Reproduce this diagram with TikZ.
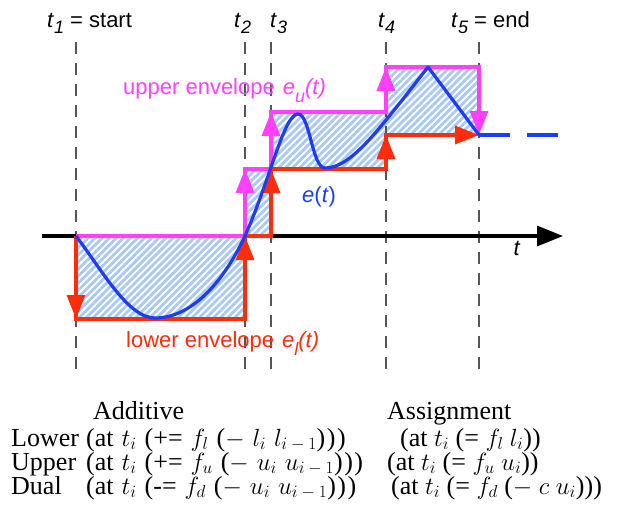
\documentclass[tikz,border=0pt]{standalone}
\usepackage{fontspec}
\setmainfont{Liberation Serif}
\setsansfont{Liberation Sans}
\usetikzlibrary{arrows.meta,patterns.meta}

\definecolor{envmag}{HTML}{FF40FF}
\definecolor{envred}{HTML}{FF2D0A}
\definecolor{curveblue}{HTML}{1E3CF0}
\definecolor{hatchblue}{HTML}{A9C9F2}
\definecolor{gridgray}{HTML}{555555}

\newcommand{\mysub}[2][7pt]{\raisebox{-#1}{\fontsize{18}{20}\selectfont\itshape #2}}
\newcommand{\tgap}{\hspace{8pt}}
\newcommand{\imo}{i\mskip\medmuskip-\mskip\medmuskip1}
\newcommand{\cpar}{)\kern1.5pt)\kern1.5pt)}

\begin{document}
\begin{tikzpicture}[x=1pt,y=-1pt,
  thickline/.style={line width=3.2pt},
  tipped/.style={thickline,-{Triangle[length=24pt,width=18pt]}},
  hatch/.style={pattern={Lines[angle=45,distance=5pt,line width=2.8pt]},pattern color=hatchblue},
  gridline/.style={gridgray,line width=1.2pt,dash pattern=on 12pt off 9pt},
  lab/.style={font=\sffamily\fontsize{22}{26}\selectfont,inner sep=0pt,anchor=base west},
  tab/.style={font=\fontsize{26}{28}\selectfont,inner sep=0pt,anchor=base west}
]
\useasboundingbox (0,0) rectangle (623,517);

% hatched regions between envelopes
\fill[hatch] (76,236) rectangle (245,319);
\fill[hatch] (245,169) rectangle (271,236);
\fill[hatch] (271,112) rectangle (386,169);
\fill[hatch] (386,67) rectangle (479,135);

% time markers
\foreach \x/\n in {76/1,245/2,271/3,386/4,479/5}{
  \coordinate (top\n) at (\x,42);
  \coordinate (bot\n) at (\x,370);
  \draw[gridline] (top\n) -- (bot\n);
}

% labels on top
\node[lab] (lt1) at (47,27.5) {\textit{t}\mysub[6pt]{1} = start};
\node[lab] (lt2) at (234,27.5) {\textit{t}\mysub[6pt]{2}};
\node[lab] (lt3) at (270,27.5) {\textit{t}\mysub[6pt]{3}};
\node[lab] (lt4) at (378,27.5) {\textit{t}\mysub[6pt]{4}};
\node[lab] (lt5) at (451,27.5) {\textit{t}\mysub[6pt]{5} = end};

% axis
\coordinate (ax0) at (42,236);
\coordinate (ax1) at (563,236);
\draw[thickline,-{Triangle[length=26pt,width=20pt]}] (ax0) -- (ax1);
\node[lab,anchor=base] (tlab) at (517,255) {\textit{t}};

% upper envelope
\draw[envmag,thickline] (76,236) -- (245,236) -- (245,169) -- (271,169) -- (271,112)
  -- (386,112) -- (386,67) -- (479,67) -- (479,110);
\draw[envmag,tipped] (245,236) -- (245,169);
\draw[envmag,tipped] (271,169) -- (271,112);
\draw[envmag,tipped] (386,112) -- (386,67);
\draw[envmag,tipped] (479,67) -- (479,135);

% lower envelope
\draw[envred,thickline] (76,236) -- (76,319) -- (245,319) -- (245,236) -- (271,236)
  -- (271,169) -- (386,169) -- (386,135) -- (455,135);
\draw[envred,tipped] (76,236) -- (76,319);
\draw[envred,tipped] (245,319) -- (245,236);
\draw[envred,tipped] (271,236) -- (271,169);
\draw[envred,tipped] (386,169) -- (386,135);
\draw[envred,tipped] (386,135) -- (479,135);

% e(t)
\draw[curveblue,thickline,line join=round]
  (76,236) .. controls (102,270) and (128,318) .. (155,318)
  .. controls (190,318) and (222,285) .. (245,236)
  .. controls (270,180) and (284,114) .. (298,114)
  .. controls (310,114) and (312,168) .. (325,168)
  .. controls (350,168) and (375,135) .. (428,67)
  -- (479,135);
\coordinate (cend) at (479,135);
\coordinate (cfree) at (558,135);
\draw[curveblue,thickline,dash pattern=on 31pt off 17pt] (cend) -- (cfree);

% curve labels
\node[lab,text=envmag] (upl) at (123,94) {upper envelope\hspace{8pt}\textit{e}\mysub[8pt]{u}\textit{(t)}};
\node[lab,text=envred] (lol) at (126,347) {lower envelope\hspace{8pt}\textit{e}\mysub[8pt]{l}\textit{(t)}};
\node[lab,text=curveblue] (etl) at (302,202) {\textit{e}(\textit{t})};

% table
\node[tab] (hadd) at (93,419) {Additive};
\node[tab] (hass) at (387,419) {Assignment};

\node[tab] (r1a) at (11,446) {Lower};
\node[tab] (r1b) at (86,446) {(at\tgap$t_i$\tgap(+=\tgap$f_l$\tgap($-$\tgap$l_i$\tgap$l_{\imo}$\cpar};
\node[tab] (r1c) at (400,446) {(at $t_i$ (= $f_l$ $l_i$))};

\node[tab] (r2a) at (11,470) {Upper};
\node[tab] (r2b) at (86,470) {(at\tgap$t_i$\tgap(+=\tgap$f_u$\tgap($-$\tgap$u_i$\tgap$u_{\imo}$\cpar};
\node[tab] (r2c) at (387,470) {(at $t_i$ (= $f_u$ $u_i$))};

\node[tab] (r3a) at (11,494) {Dual};
\node[tab] (r3b) at (86,494) {(at\tgap$t_i$\tgap(-=\tgap$f_d$\tgap($-$\tgap$u_i$\tgap$u_{\imo}$\cpar};
\node[tab] (r3c) at (391,494) {(at $t_i$ (= $f_d$ ($-$ $c$ $u_i$)))};
\end{tikzpicture}
\end{document}
